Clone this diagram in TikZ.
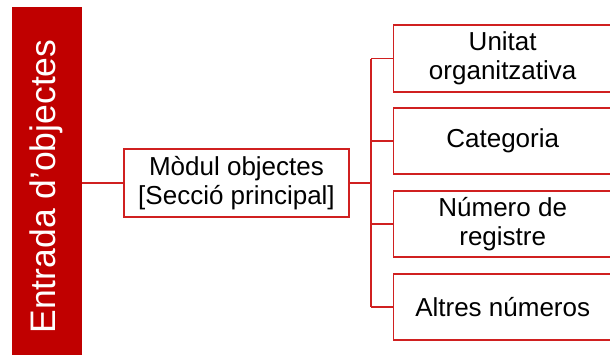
\documentclass[tikz,border=0pt]{standalone}
\usepackage{fontspec}
\setmainfont{Liberation Sans}
\definecolor{barred}{HTML}{C00000}
\definecolor{linered}{HTML}{D02020}
\begin{document}
\begin{tikzpicture}[x=1pt,y=-1pt,
  box/.style={draw=linered,line width=1.4pt,fill=white,inner sep=0pt,align=center,
    font=\fontsize{26}{29}\selectfont},
  conn/.style={draw=linered,line width=1.4pt}]
\useasboundingbox (0,0) rectangle (610,354);
\clip (0,0) rectangle (610,354);
\node[fill=barred,minimum width=70pt,minimum height=360pt,inner sep=0pt] (bar) at (47,187) {};
\node[rotate=90,text=white,font=\fontsize{35.5}{40}\selectfont] (bartxt) at (46,186.5) {Entrada d’objectes};
\node[box,minimum width=225pt,minimum height=68pt] (mod) at (236.5,183) {Mòdul objectes\\{[}Secció principal{]}};
\node[box,minimum width=240pt,minimum height=67pt,anchor=west] (b1) at (393,58.5) {\hspace*{-22pt}Unitat\\\hspace*{-22pt}organitzativa};
\node[box,minimum width=240pt,minimum height=66pt,anchor=west] (b2) at (393,141) {\hspace*{-22pt}Categoria};
\node[box,minimum width=240pt,minimum height=66pt,anchor=west] (b3) at (393,224) {\hspace*{-22pt}Número de\\\hspace*{-22pt}registre};
\node[box,minimum width=240pt,minimum height=66pt,anchor=west] (b4) at (393,307) {\hspace*{-22pt}Altres números};
\coordinate (jn) at (371,183);
\draw[conn] (bar.east |- mod.west) -- (mod.west);
\draw[conn] (mod.east) -- (jn);
\draw[conn] (jn |- b1.west) -- (jn |- b4.west);
\foreach \b in {b1,b2,b3,b4} \draw[conn] (jn |- \b.west) -- (\b.west);
\end{tikzpicture}
\end{document}
